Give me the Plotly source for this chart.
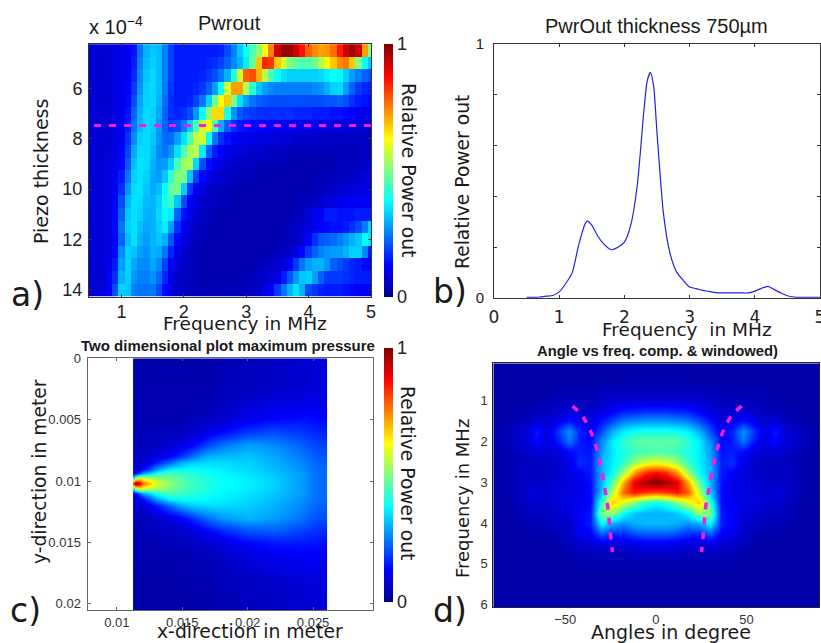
import numpy as np
import plotly.graph_objects as go

W, H = 821, 643
JET = [[0, "#00008f"], [0.125, "#0000ff"], [0.375, "#00ffff"], [0.625, "#ffff00"], [0.875, "#ff0000"], [1, "#800000"]]
MAGENTA = "#f81be0"
SANS = "Liberation Sans"
DEJA = "DejaVu Sans"

# ---- panel a
a_freq = [0.5, 0.6, 0.7, 0.8, 0.9, 1.0, 1.1, 1.2, 1.3, 1.4, 1.5, 1.6, 1.7, 1.8, 1.9, 2.0, 2.1, 2.2, 2.3, 2.4, 2.5, 2.6, 2.7, 2.8, 2.9, 3.0, 3.1, 3.2, 3.3, 3.4, 3.5, 3.6, 3.7, 3.8, 3.9, 4.0, 4.1, 4.2, 4.3, 4.4, 4.5, 4.6, 4.7, 4.8, 4.9, 5.0]
a_thick = [4.5, 5, 5.5, 6, 6.5, 7, 7.5, 8, 8.5, 9, 9.5, 10, 10.5, 11, 11.5, 12, 12.5, 13, 13.5, 14]
a_power = [
 [8,8,8,8,9,10,11,14,24,30, 32,31,25,19,15,15,15,15,15,15, 15,16,20,25,32,38,45,52,62,75, 92,98,97,92,86,78,74,72,73,77, 85,93,97,92,72,50],
 [8,8,8,8,9,10,11,15,25,31, 33,31,25,19,15,15,15,15,15,16, 17,19,22,26,30,36,48,68,84,82, 68,58,50,47,45,46,48,55,62,68, 74,76,68,50,38,32],
 [8,8,8,8,9,10,11,16,26,32, 34,31,25,19,15,15,15,15,16,18, 20,24,30,40,58,78,80,70,55,45, 38,35,33,33,33,33,33,34,36,38, 37,33,28,25,22,20],
 [8,8,8,8,9,10,12,18,27,33, 34,31,24,18,15,15,15,16,18,22, 28,38,58,72,72,55,42,32,28,26, 25,25,25,25,25,25,26,27,30,33, 34,28,22,18,16,15],
 [8,8,8,8,9,10,13,20,29,33, 34,30,23,17,15,15,16,19,24,33, 48,62,68,50,35,28,24,22,21,20, 20,20,20,20,20,20,20,20,21,21, 22,20,17,15,14,13],
 [8,8,8,8,9,10,14,22,30,34, 33,29,22,17,16,17,20,27,38,52, 66,66,40,27,21,19,18,17,17,17, 17,17,17,16,16,16,15,15,15,14, 14,13,12,11,10,10],
 [8,8,8,8,9,11,15,24,31,34, 33,28,22,19,20,25,33,45,58,62, 45,30,22,17,15,14,13,13,12,12, 11,11,11,11,10,10,10,10,10,9, 9,9,8,8,8,8],
 [8,8,8,8,9,11,17,26,33,34, 32,27,23,23,28,35,45,56,58,38, 24,17,14,12,11,10,10,9,9,9, 8,8,8,7,7,7,7,6,6,6, 6,6,6,6,6,6],
 [8,8,8,8,9,12,19,29,34,34, 31,26,24,27,35,45,54,56,36,22, 15,12,10,9,8,8,7,7,7,6, 6,6,5,5,5,5,5,5,5,5, 5,5,5,5,6,6],
 [8,8,8,9,10,13,21,31,35,34, 30,27,28,33,44,53,54,34,20,14, 11,9,8,7,6,6,6,5,5,5, 5,5,4,4,4,4,4,4,4,4, 5,5,5,6,6,7],
 [8,8,8,9,10,15,24,33,35,33, 29,28,32,42,50,50,32,19,13,10, 8,7,6,6,5,5,5,4,4,4, 4,4,4,4,4,4,4,4,5,5, 5,6,6,7,8,8],
 [8,8,8,9,11,17,27,34,35,32, 29,31,38,47,49,33,18,12,9,7, 6,6,5,5,4,4,4,4,4,4, 4,4,4,4,4,4,5,5,6,6, 7,8,8,9,9,9],
 [8,8,8,9,12,20,30,35,34,31, 30,33,40,43,32,20,12,9,7,6, 5,5,5,4,4,4,4,4,4,4, 4,4,4,4,5,5,6,7,8,9, 10,11,11,11,11,11],
 [8,8,8,9,13,22,32,35,33,30, 30,34,38,36,22,14,10,7,6,5, 5,4,4,4,4,4,4,4,4,4, 4,4,4,5,6,8,10,12,15,15, 14,14,14,15,15,15],
 [8,8,8,9,13,24,33,35,31,29, 30,33,36,28,17,11,8,6,5,5, 4,4,4,4,4,4,4,4,4,4, 4,4,5,6,7,9,10,12,13,14, 14,15,17,20,25,33],
 [8,8,8,9,12,22,31,35,30,28, 30,32,30,21,13,9,7,5,5,4, 4,4,4,4,4,4,4,4,4,4, 4,5,5,6,8,12,17,21,22,23, 25,27,30,32,38,35],
 [8,8,8,9,13,26,33,32,28,27, 30,29,24,16,10,7,6,5,4,4, 4,4,4,4,4,4,4,4,4,5, 5,6,7,9,13,18,22,25,27,28, 28,30,33,33,25,15],
 [8,8,8,10,15,28,33,29,26,26, 29,26,19,12,8,6,5,5,4,4, 4,4,4,4,4,4,4,5,5,6, 7,9,12,18,24,28,30,30,27,22, 20,18,16,15,13,12],
 [8,8,8,11,17,30,33,27,25,25, 27,23,16,10,7,6,5,5,4,4, 4,4,4,4,4,5,5,6,7,8, 10,15,21,27,32,33,28,22,18,18, 18,17,16,15,15,15],
 [8,8,9,12,20,33,32,25,24,24, 24,20,13,9,7,6,5,5,5,4, 5,5,5,5,5,5,6,7,9,12, 18,24,30,35,30,20,18,16,15,15, 15,14,13,12,11,10],
]
a_cut_x = [0.56, 5.0]
a_cut_y = [7.47, 7.47]

# ---- panel b
b_freq = [0.5, 0.6, 0.7, 0.8, 0.9, 1.0, 1.1, 1.2, 1.3, 1.4, 1.43, 1.5, 1.6, 1.7, 1.8, 1.9, 2.0, 2.1, 2.2, 2.3, 2.35, 2.4, 2.45, 2.5, 2.6, 2.7, 2.8, 2.9, 3.0, 3.1, 3.2, 3.3, 3.4, 3.5, 3.6, 3.7, 3.8, 3.9, 4.0, 4.1, 4.2, 4.3, 4.4, 4.5, 4.6, 4.7, 4.8, 4.9, 5.0]
b_power = [0.003, 0.003, 0.004, 0.007, 0.01, 0.024, 0.057, 0.10, 0.21, 0.293, 0.303, 0.287, 0.24, 0.208, 0.19, 0.2, 0.22, 0.29, 0.45, 0.74, 0.855, 0.888, 0.83, 0.65, 0.33, 0.175, 0.103, 0.07, 0.043, 0.037, 0.03, 0.026, 0.021, 0.02, 0.02, 0.02, 0.02, 0.02, 0.027, 0.038, 0.046, 0.033, 0.02, 0.009, 0.004, 0.003, 0.003, 0.003, 0.003]

# ---- panel c
c_x = [0.01129, 0.0114, 0.0117, 0.012, 0.0125, 0.013, 0.014, 0.015, 0.016, 0.017, 0.018, 0.02, 0.022, 0.024, 0.0254]
c_y = [0, 0.003, 0.005, 0.006, 0.007, 0.008, 0.0085, 0.009, 0.0094, 0.0098, 0.0102, 0.0106, 0.011, 0.0115, 0.012, 0.013, 0.014, 0.015, 0.016, 0.018, 0.0205]
c_pressure = [
 [3,3,3,3,3,3,3, 3,3,3,4,5,6,7,8],
 [4,4,4,4,4,4,4, 4,4,4,5,6,7,8,9],
 [4,4,4,4,4,4,4, 4,5,6,7,11,13,14,13],
 [4,4,4,5,5,5,5, 6,7,10,13,18,20,18,16],
 [5,5,5,5,5,6,7, 9,13,19,23,28,26,22,19],
 [6,6,6,6,7,9,12, 18,25,30,31,32,29,25,21],
 [6,7,7,8,11,15,22, 30,33,34,34,33,30,26,22],
 [8,8,10,13,20,27,36, 38,38,37,36,34,31,27,23],
 [12,13,20,28,34,40,45, 43,41,39,37,35,32,28,23],
 [40,55,65,60,56,53,49, 45,42,40,38,36,33,28,23],
 [88,100,92,78,68,60,52, 46,43,40,38,36,33,28,23],
 [40,55,65,60,56,53,49, 45,42,40,38,36,33,28,23],
 [12,13,20,28,34,40,45, 43,41,39,37,35,32,28,23],
 [8,8,10,13,20,27,36, 38,38,37,36,34,31,27,23],
 [6,7,7,8,11,15,22, 30,33,34,34,33,30,26,22],
 [5,5,5,5,6,7,9, 12,18,23,27,30,28,24,20],
 [4,4,4,5,5,5,6, 7,9,13,16,21,22,19,17],
 [4,4,4,4,4,5,5, 5,6,7,9,13,15,15,14],
 [4,4,4,4,4,4,4, 4,5,5,6,9,11,12,12],
 [3,3,3,3,3,3,3, 4,4,4,5,6,7,8,9],
 [3,3,3,3,3,3,3, 3,3,3,4,5,6,7,8],
]

# ---- panel d
d_angle = [-90, -84, -78, -72, -66, -60, -54, -48, -42, -36, -30, -24, -18, -12, -6, 0, 6, 12, 18, 24, 30, 36, 42, 48, 54, 60, 66, 72, 78, 84, 90]
d_freq = [0, 0.25, 0.5, 0.75, 1, 1.25, 1.5, 1.75, 2, 2.25, 2.5, 2.75, 3, 3.25, 3.5, 3.75, 4, 4.25, 4.5, 4.75, 5, 5.25, 5.5, 5.75, 6, 6.25]
d_level = [
 [3,3,3,3,3,3,3,3,3,3,3,3,3,3,3,3,3,3,3,3,3,3,3,3,3,3,3,3,3,3,3],
 [3,3,3,3,3,3,3,3,3,3,3,3,3,3,3,3,3,3,3,3,3,3,3,3,3,3,3,3,3,3,3],
 [3,3,3,3,3,3,3,3,3,3,3,3,4,4,4,4,4,4,4,3,3,3,3,3,3,3,3,3,3,3,3],
 [3,3,3,3,3,3,4,4,4,4,5,5,5,5,5,5,5,5,5,5,5,5,4,4,4,4,3,3,3,3,3],
 [3,3,3,3,4,4,5,5,5,5,6,7,8,8,8,8,8,8,8,7,6,5,5,5,5,4,4,3,3,3,3],
 [3,3,4,4,5,5,7,8,7,7,9,12,15,16,17,17,17,16,15,12,9,7,7,8,7,5,5,4,4,3,3],
 [3,3,4,5,8,7,11,15,11,9,14,20,25,27,28,28,28,27,25,20,14,9,11,15,11,7,8,5,4,3,3],
 [3,4,6,8,15,9,18,27,16,11,20,30,36,39,40,40,40,39,36,30,20,11,16,27,18,9,15,8,6,4,3],
 [3,4,7,8,13,9,15,24,15,13,26,36,42,46,47,47,47,46,42,36,26,13,15,24,15,9,13,8,7,4,3],
 [3,3,5,6,8,7,9,13,15,14,28,36,40,43,44,45,44,43,40,36,28,14,15,13,9,7,8,6,5,3,3],
 [3,3,5,5,6,6,7,10,17,15,30,36,42,52,58,60,58,52,42,36,30,15,17,10,7,6,6,5,5,3,3],
 [3,3,5,6,6,6,7,9,12,15,30,38,52,72,83,86,83,72,52,38,30,15,12,9,7,6,6,6,5,3,3],
 [3,3,5,6,7,7,8,9,10,14,30,46,70,90,97,100,97,90,70,46,30,14,10,9,8,7,7,6,5,3,3],
 [3,3,5,7,8,7,9,9,10,13,32,55,78,86,82,80,82,86,78,55,32,13,10,9,9,7,8,7,5,3,3],
 [3,3,4,6,7,7,9,9,11,13,42,68,60,50,42,38,42,50,60,68,42,13,11,9,9,7,7,6,4,3,3],
 [3,3,4,5,6,6,8,8,13,14,50,52,38,32,30,30,30,32,38,52,50,14,13,8,8,6,6,5,4,3,3],
 [3,3,3,4,5,5,6,7,12,15,38,30,27,30,31,31,31,30,27,30,38,15,12,7,6,5,5,4,3,3,3],
 [3,3,3,3,4,4,5,6,11,12,22,17,17,20,22,22,22,20,17,17,22,12,11,6,5,4,4,3,3,3,3],
 [3,3,3,3,3,3,4,5,7,8,10,9,9,10,11,11,11,10,9,9,10,8,7,5,4,3,3,3,3,3,3],
 [3,3,3,3,3,3,3,4,5,5,5,5,5,6,6,6,6,6,5,5,5,5,5,4,3,3,3,3,3,3,3],
 [3,3,3,3,3,3,3,3,4,4,4,4,4,4,4,4,4,4,4,4,4,4,4,3,3,3,3,3,3,3,3],
 [3,3,3,3,3,3,3,3,3,3,3,3,3,3,3,3,3,3,3,3,3,3,3,3,3,3,3,3,3,3,3],
 [3,3,3,3,3,3,3,3,3,3,3,3,3,3,3,3,3,3,3,3,3,3,3,3,3,3,3,3,3,3,3],
 [3,3,3,3,3,3,3,3,3,3,3,3,3,3,3,3,3,3,3,3,3,3,3,3,3,3,3,3,3,3,3],
 [3,3,3,3,3,3,3,3,3,3,3,3,3,3,3,3,3,3,3,3,3,3,3,3,3,3,3,3,3,3,3],
 [3,3,3,3,3,3,3,3,3,3,3,3,3,3,3,3,3,3,3,3,3,3,3,3,3,3,3,3,3,3,3],
]
d_left_x = [-46, -40.9, -36.3, -33.5, -31.3, -28.5, -26.5, -25.2, -23.9]
d_right_x = [47.3, 42, 37.4, 34.8, 32.4, 29.6, 27.4, 26.3, 25.2]
d_curve_y = [1.13, 1.35, 1.72, 2.05, 2.42, 3.07, 3.64, 4.22, 4.71]


def fx(a, b):
    return [a / W, b / W]


def fy(a, b):
    return [1 - b / H, 1 - a / H]


def pct(rows):
    return (np.array(rows) / 100).tolist()


def cbar(top, bottom):
    return dict(thickness=9, thicknessmode="pixels", len=bottom - top, lenmode="pixels",
                x=384 / W, xanchor="left", xpad=0, y=1 - bottom / H, yanchor="bottom", ypad=0,
                tickvals=[0, 1], ticktext=["0", "1"], ticks="", outlinewidth=0,
                tickfont=dict(family=SANS, size=18, color="#222"))


fig = go.Figure()
fig.add_trace(go.Heatmap(x=a_freq, y=a_thick, z=pct(a_power), colorscale=JET, zmin=0, zmax=1,
                         xaxis="x", yaxis="y", colorbar=cbar(44, 297)))
fig.add_trace(go.Scatter(x=a_cut_x, y=a_cut_y, mode="lines", xaxis="x", yaxis="y", showlegend=False,
                         line=dict(color=MAGENTA, width=3, dash="7px,8px")))
fig.add_trace(go.Scatter(x=b_freq, y=b_power, mode="lines", xaxis="x2", yaxis="y2", showlegend=False,
                         line=dict(color="#2222dd", width=1.2, shape="spline", smoothing=0.6)))
fig.add_trace(go.Heatmap(x=c_x, y=c_y, z=pct(c_pressure), colorscale=JET, zmin=0, zmax=1, zsmooth="best",
                         xaxis="x3", yaxis="y3", colorbar=cbar(348, 602)))
fig.add_trace(go.Heatmap(x=d_angle, y=d_freq, z=pct(d_level), colorscale=JET, zmin=0, zmax=1, zsmooth="best",
                         xaxis="x4", yaxis="y4", showscale=False))
for xs in (d_left_x, d_right_x):
    fig.add_trace(go.Scatter(x=xs, y=d_curve_y, mode="lines", xaxis="x4", yaxis="y4", showlegend=False,
                             line=dict(color=MAGENTA, width=3.5, dash="7px,8px", shape="spline")))


def axis(domain, rng, anchor, tickvals, ticktext=None, font=SANS, size=18, color="#222",
         linecolor="#333", ticks="inside", standoff=None):
    d = dict(domain=domain, range=rng, anchor=anchor, tickvals=tickvals, ticks=ticks, ticklen=3, automargin=False,
             tickcolor=linecolor, showline=True, linecolor=linecolor, linewidth=1, mirror="allticks" if ticks else True,
             showgrid=False, zeroline=False, ticklabeloverflow="allow", tickfont=dict(family=font, size=size, color=color))
    if ticktext is not None:
        d["ticktext"] = ticktext
    if standoff is not None:
        d["ticklabelstandoff"] = standoff
    return d


b_y = axis(fy(44, 298), [0, 1], "x2", [0, 1], ["0", "1"], size=15, standoff=6)
b_y["minor"] = dict(tickvals=[0.2, 0.4, 0.6, 0.8], ticks="inside", ticklen=3, tickcolor="#333", showgrid=False)

layout = dict(
    width=W, height=H, margin=dict(l=0, r=0, t=0, b=0), paper_bgcolor="white", plot_bgcolor="white",
    showlegend=False,
    xaxis=axis(fx(89, 371), [0.48, 5.0], "y", [1, 2, 3, 4, 5], standoff=-2),
    yaxis=axis(fy(44, 297), [14.28, 4.24], "x", [6, 8, 10, 12, 14], standoff=2),
    xaxis2=axis(fx(494, 820), [0, 5], "y2", [0, 1, 2, 3, 4, 5], font=DEJA, size=17, standoff=4),
    yaxis2=b_y,
    xaxis3=axis(fx(87.5, 372.7), [0.00775, 0.02956], "y3", [0.01, 0.015, 0.02, 0.025],
                ["0.01", "0.015", "0.02", "0.025"], size=13, color="#333", linecolor="#666", standoff=0),
    yaxis3=axis(fy(358.3, 610), [0.0205, 0], "x3", [0, 0.005, 0.01, 0.015, 0.02],
                ["0", "0.005", "0.01", "0.015", "0.02"], size=13, color="#333", linecolor="#666", standoff=3),
    xaxis4=axis(fx(493.3, 819), [-89.7, 90], "y4", [-50, 0, 50], ["\u221250", "0", "50"], size=13, color="#333",
                linecolor="#223", ticks="", standoff=0),
    yaxis4=axis(fy(363.3, 607.3), [6.07, 0.08], "x4", [1, 2, 3, 4, 5, 6], size=13, color="#333",
                linecolor="#223", ticks="", standoff=2),
)


def note(text, x, y, size, family=DEJA, angle=0, color="#1a1a1a", bold=False):
    t = f"<b>{text}</b>" if bold else text
    return dict(text=t, x=x / W, y=1 - y / H, xref="paper", yref="paper", showarrow=False,
                xanchor="center", yanchor="middle", textangle=angle,
                font=dict(family=family, size=size, color=color))


layout["annotations"] = [
    note("Pwrout", 229, 23, 20, SANS),
    note("x 10<sup>\u22124</sup>", 116, 25, 20, SANS),
    note("Piezo thickness", 41, 172, 19, angle=-90),
    note("Frequency in MHz", 245, 323, 18.5),
    note("Relative Power out", 408, 170, 18.7, angle=90),
    note("a)", 27, 294, 33),
    note("PwrOut thickness 750\u00b5m", 656, 26, 20, SANS),
    note("Relative Power out", 462, 182, 18.7, angle=-90),
    note("Frequency  in MHz", 687, 329, 18.5),
    note("b)", 450, 291, 33),
    note("Two dimensional plot maximum pressure", 228, 345, 15, SANS, bold=True),
    note("y-direction in meter", 39, 472, 18.7, angle=-90),
    note("x-direction in meter", 250, 631, 18.8),
    note("Relative Power out", 408, 473, 18.7, angle=90),
    note("c)", 25, 610, 33),
    note("Angle vs freq. comp. &amp; windowed)", 657, 351, 14.8, SANS, bold=True),
    note("Frequency in MHz", 462, 499, 18, angle=-90),
    note("Angles in degree", 671, 632, 19),
    note("d)", 450, 610, 33),
]
fig.update_layout(**layout)
fig.write_html("out.html", config={"displayModeBar": False},
               post_script="document.body.style.margin='0';document.body.style.overflow='hidden';")
